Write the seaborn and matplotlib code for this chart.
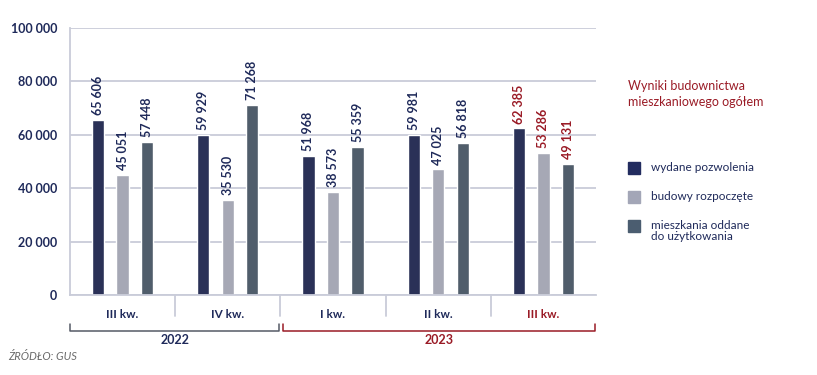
import pandas as pd
import matplotlib.pyplot as plt
import matplotlib.transforms as mtransforms
import seaborn as sns

# dane
quarters = ['III kw.', 'IV kw.', 'I kw.', 'II kw.', 'III kw. ']
series = ['wydane pozwolenia', 'budowy rozpoczęte', 'mieszkania oddane\ndo użytkowania']
pozwolenia = [65606, 59929, 51968, 59981, 62385]
rozpoczete = [45051, 35530, 38573, 47025, 53286]
oddane = [57448, 71268, 55359, 56818, 49131]
years = ['2022', '2023']
yticks = [0, 20000, 40000, 60000, 80000, 100000]

navy = '#222c5f'
light = '#a3a6b7'
slate = '#4b5d70'
red = '#9a1b26'
grid_c = '#c9ccd9'
txt = '#1f2a5a'

df = pd.DataFrame({
    'kw': quarters * 3,
    'seria': [series[0]] * 5 + [series[1]] * 5 + [series[2]] * 5,
    'val': pozwolenia + rozpoczete + oddane,
})

sns.set_style('white')
plt.rcParams['font.family'] = ['Lato', 'DejaVu Sans']

fig = plt.figure(figsize=(8.17, 3.75), dpi=100)
ax = fig.add_axes([70 / 817, 80 / 375, 526 / 817, 267 / 375])

sns.barplot(data=df, x='kw', y='val', hue='seria', hue_order=series,
            palette=[navy, light, slate], width=0.7, gap=0.5,
            ax=ax, legend=False)

ax.set_ylim(0, 100000)
ax.set_xlim(-0.5, 4.5)
ax.set_yticks(yticks)
ax.set_yticklabels([f'{v:,}'.replace(',', ' ') for v in yticks],
                   fontsize=9, fontweight='bold', color=txt)
ax.yaxis.grid(True, color=grid_c, linewidth=1.3)
ax.set_axisbelow(True)
ax.tick_params(axis='y', length=0, pad=9)
ax.set_xlabel('')
ax.set_ylabel('')
for s in ['top', 'right']:
    ax.spines[s].set_visible(False)
ax.spines['left'].set_color(grid_c)
ax.spines['left'].set_linewidth(1.3)
ax.spines['bottom'].set_color(grid_c)
ax.spines['bottom'].set_linewidth(1.3)

# etykiety kwartalow
ax.set_xticks(range(5))
ax.set_xticklabels([q.strip() for q in quarters], fontsize=8.5, fontweight='bold')
ax.tick_params(axis='x', length=0, pad=10)
for i, lab in enumerate(ax.get_xticklabels()):
    lab.set_color(red if i == 4 else txt)

# wartosci nad slupkami
for cont in ax.containers:
    for i, bar in enumerate(cont):
        h = bar.get_height()
        ax.text(bar.get_x() + bar.get_width() / 2, h + 1800,
                f'{int(h):,}'.replace(',', ' '), rotation=90,
                ha='center', va='bottom', fontsize=9, fontweight='bold',
                color=red if i == 4 else txt)

trans = mtransforms.blended_transform_factory(ax.transData, ax.transAxes)
for x in [0.5, 1.5, 2.5, 3.5]:
    ax.plot([x, x], [0, -0.079], transform=trans, color=grid_c, lw=1.3, clip_on=False)

# nawiasy lat
for (x0, x1), yr, c in zip([(-0.5, 1.49), (1.52, 4.49)], years, ['#555a66', red]):
    ax.plot([x0, x0, x1, x1], [-0.109, -0.134, -0.134, -0.109], transform=trans,
            color=c, lw=1.1, clip_on=False)
    ax.text((x0 + x1) / 2, -0.169, yr, transform=trans, ha='center', va='center',
            fontsize=9, fontweight='bold', color=txt if yr == '2022' else red)

# legenda
fig.text(628 / 817, 1 - 94 / 375, 'Wyniki budownictwa\nmieszkaniowego ogółem',
         fontsize=9, color=red, va='center', linespacing=1.45)
for yy, lab, c in zip([168, 197, 226], series, [navy, light, slate]):
    fig.patches.append(plt.Rectangle((628 / 817, 1 - (yy + 6) / 375), 12 / 817, 12 / 375,
                                     transform=fig.transFigure, color=c))
    fig.text(651 / 817, 1 - yy / 375, lab, fontsize=8.5, color=txt,
             va='top' if '\n' in lab else 'center', linespacing=1.0)
    if '\n' in lab:
        fig.texts[-1].set_y(1 - (yy - 6) / 375)

fig.text(8 / 817, 1 - 357 / 375, 'ŹRÓDŁO: GUS', fontsize=8, style='italic',
         color='#6a6a6a', va='center')

fig.savefig('out.png', dpi=100)
